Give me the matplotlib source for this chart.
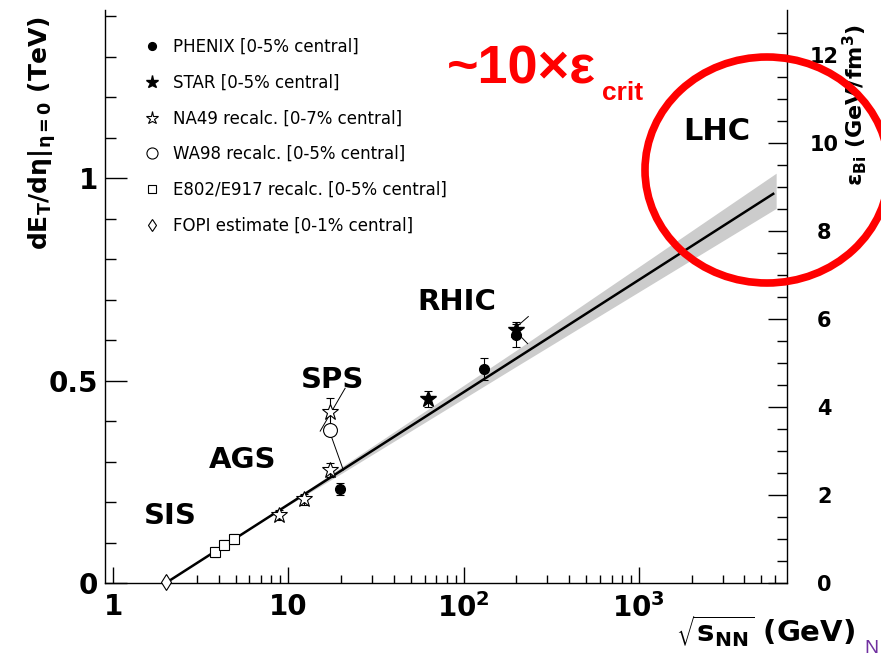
import matplotlib
matplotlib.use("Agg")
from matplotlib import pyplot as plt
from matplotlib.patches import Ellipse
from matplotlib.ticker import FixedLocator, NullFormatter

plt.rcParams['font.family'] = ['DejaVu Sans']
plt.rcParams['mathtext.fontset'] = 'dejavusans'
plt.rcParams['mathtext.default'] = 'bf'

# data (sqrt(s_NN) in GeV, dE_T/deta in TeV)
fopi_x = [2.0]
fopi_y = [0.003]
e802_x = [3.8, 4.3, 4.9]
e802_y = [0.077, 0.095, 0.109]
e802_err = [0.012, 0.012, 0.012]
na49_x = [8.8, 12.3, 17.3, 17.3]
na49_y = [0.168, 0.207, 0.279, 0.423]
na49_err = [0.012, 0.014, 0.018, 0.035]
wa98_x = [17.3]
wa98_y = [0.379]
phenix_x = [19.6, 130, 200]
phenix_y = [0.233, 0.528, 0.612]
phenix_err = [0.015, 0.027, 0.028]
star_x = [62.4, 200]
star_y = [0.455, 0.625]
star_err = [0.02, 0.02]

# slanted brackets drawn next to the SPS and RHIC points
seg_x = [[21.1, 15.2], [17.3, 20.6], [234, 201], [216, 232]]
seg_y = [[0.481, 0.375], [0.371, 0.279], [0.658, 0.633], [0.605, 0.591]]

# logarithmic fit and its band
fit_x = [2.0, 5840]
fit_y = [0.0, 0.961]
band_x = [9, 20, 200, 6070]
band_lo = [0.180, 0.270, 0.535, 0.925]
band_hi = [0.184, 0.286, 0.575, 1.012]

regions = ["SIS", "AGS", "SPS", "RHIC", "LHC"]
region_x = [2.11, 5.5, 18.0, 92, 2780]
region_y = [0.165, 0.304, 0.501, 0.694, 1.114]

x_ticks = [1, 10, 100, 1000]
x_ticklabels = ['1', '10', '$10^{2}$', '$10^{3}$']
y_ticks = [0, 0.5, 1]
y_ticklabels = ['0', '0.5', '1']
eps_ticks = [0, 2, 4, 6, 8, 10, 12]

W, H = 881, 656
fig = plt.figure(figsize=(W / 100, H / 100), dpi=100)
ax = fig.add_axes([105 / W, 1 - 583 / H, 682 / W, 573 / H])
ax.set_xscale('log')
ax.set_xlim(0.9, 7000)
ax.set_ylim(0, 1.415)

ax.fill_between(band_x, band_lo, band_hi, color='#cccccc', lw=0, zorder=1)
ax.plot(fit_x, fit_y, color='black', lw=1.8, zorder=2)
for sx, sy in zip(seg_x, seg_y):
    ax.plot(sx, sy, color='black', lw=0.7, zorder=2)

eb = dict(fmt='none', ecolor='black', elinewidth=0.8, capsize=3, capthick=0.8, zorder=3)
ax.errorbar(e802_x, e802_y, yerr=e802_err, **eb)
ax.errorbar(na49_x, na49_y, yerr=na49_err, **eb)
ax.errorbar(phenix_x, phenix_y, yerr=phenix_err, **eb)
ax.errorbar(star_x, star_y, yerr=star_err, **eb)

h_phenix, = ax.plot(phenix_x, phenix_y, 'o', color='black', ms=7, zorder=5,
                    label='PHENIX [0-5% central]')
h_star, = ax.plot(star_x, star_y, '*', color='black', ms=12, zorder=5,
                  label='STAR [0-5% central]')
h_na49, = ax.plot(na49_x, na49_y, '*', mfc='white', mec='black', mew=0.8, ms=12, zorder=4,
                  label='NA49 recalc. [0-7% central]')
h_wa98, = ax.plot(wa98_x, wa98_y, 'o', mfc='white', mec='black', mew=0.8, ms=10, zorder=4,
                  label='WA98 recalc. [0-5% central]')
h_e802, = ax.plot(e802_x, e802_y, 's', mfc='white', mec='black', mew=0.8, ms=7, zorder=4,
                  label='E802/E917 recalc. [0-5% central]')
h_fopi, = ax.plot(fopi_x, fopi_y, 'd', mfc='white', mec='black', mew=0.8, ms=8, zorder=4,
                  label='FOPI estimate [0-1% central]', clip_on=False)

leg = ax.legend(handles=[h_phenix, h_star, h_na49, h_wa98, h_e802, h_fopi],
                loc='upper left', bbox_to_anchor=(0.057, 0.951), frameon=False,
                fontsize=12, labelspacing=1.06, handlelength=1.0, handletextpad=0.75,
                borderpad=0, borderaxespad=0, numpoints=1, markerscale=0.8)

for name, rx, ry in zip(regions, region_x, region_y):
    ax.text(rx, ry, name, fontsize=22 if name == 'LHC' else 21, fontweight='bold',
            ha='center', va='center', zorder=6)

# axes styling, ticks inside like ROOT
ax.spines['top'].set_visible(False)
ax.spines['right'].set_visible(False)
for s in ax.spines.values():
    s.set_linewidth(1.0)
ax.xaxis.set_major_locator(FixedLocator(x_ticks))
ax.set_xticklabels(x_ticklabels)
ax.xaxis.set_minor_locator(FixedLocator([m * 10 ** d for d in range(0, 4) for m in range(2, 10)
                                         if m * 10 ** d < 7000]))
ax.xaxis.set_minor_formatter(NullFormatter())
ax.yaxis.set_major_locator(FixedLocator(y_ticks))
ax.set_yticklabels(y_ticklabels)
ax.yaxis.set_minor_locator(FixedLocator([i / 10 for i in range(1, 15) if i % 5]))
ax.tick_params(axis='x', which='major', direction='in', length=11.5, width=1, pad=7,
               labelsize=20)
ax.tick_params(axis='x', which='minor', direction='in', length=6, width=1)
ax.tick_params(axis='y', which='major', direction='in', length=16, width=1, pad=5,
               labelsize=20)
ax.tick_params(axis='y', which='minor', direction='in', length=8, width=1)
for t in ax.get_xticklabels() + ax.get_yticklabels():
    t.set_fontweight('bold')

ax2 = ax.twinx()
ax2.set_ylim(0, 13.02)
for k in ['top', 'left', 'bottom']:
    ax2.spines[k].set_visible(False)
ax2.spines['right'].set_linewidth(1.0)
ax2.yaxis.set_major_locator(FixedLocator(eps_ticks))
ax2.yaxis.set_minor_locator(FixedLocator([i / 2 for i in range(1, 26) if i % 4]))
ax2.tick_params(axis='y', which='major', direction='in', length=14, width=1, pad=27,
                labelsize=15)
ax2.tick_params(axis='y', which='minor', direction='in', length=7, width=1)
for t in ax2.get_yticklabels():
    t.set_fontweight('bold')
    t.set_horizontalalignment('center')

# axis titles
fig.text(42 / W, 1 - 133 / H, 'dE$_{T}$/dη|$_{η=0}$ (TeV)', rotation=90,
         fontsize=18, fontweight='bold', ha='center', va='center')
fig.text(855 / W, 1 - 105 / H, r'$\epsilon_{Bi}$ (GeV/fm$^{3}$)', rotation=90,
         fontsize=16, fontweight='bold', ha='center', va='center')
fig.text(855 / W, 1 - 642 / H, r'$\sqrt{s_{NN}}$ (GeV)', fontsize=21, fontweight='bold',
         ha='right', va='baseline')
fig.text(864 / W, 1 - 653 / H, 'N', fontsize=14, color='#7030a0',
         family='Liberation Sans', ha='left', va='baseline')

# slide annotation
fig.text(447 / W, 1 - 84 / H, '~10×ε', fontsize=39, fontweight='bold', color='#ff0000',
         family='Liberation Sans', ha='left', va='baseline')
fig.text(602 / W, 1 - 100 / H, 'crit', fontsize=19, fontweight='bold', color='#ff0000',
         family='Liberation Sans', ha='left', va='baseline')
fig.add_artist(Ellipse((767 / W, 1 - 170 / H), 244 / W, 226 / H, transform=fig.transFigure,
                       fill=False, ec='#ff0000', lw=5.5, zorder=10))

fig.savefig('out.png', dpi=100)
